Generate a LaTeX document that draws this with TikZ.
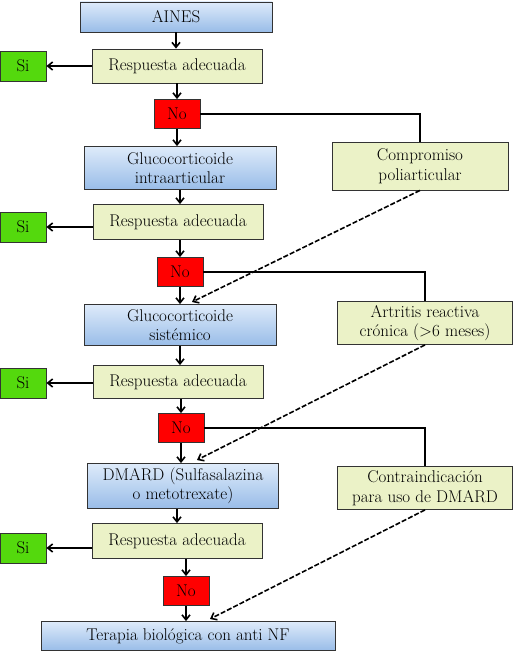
\documentclass[tikz,border=0pt]{standalone}
\usepackage{fontspec}
\usepackage{tikz}
\usetikzlibrary{calc,arrows.meta}
\definecolor{azul}{rgb}{0.60, 0.74, 0.91}
\definecolor{azulclaro}{rgb}{0.87, 0.92, 0.98}
\definecolor{crema}{rgb}{0.92, 0.95, 0.78}
\definecolor{verde}{rgb}{0.33, 0.85, 0.05}
\definecolor{rojo}{rgb}{1.0, 0.0, 0.0}
\tikzset{
  caja/.style={draw=black!80, line width=0.8pt, minimum height=30pt, align=center,
    font=\fontsize{17}{19.5}\selectfont, inner sep=1pt},
  paso/.style={caja, top color=azulclaro, bottom color=azul},
  resp/.style={caja, fill=crema},
  si/.style={caja, fill=verde, minimum width=46pt},
  no/.style={caja, fill=rojo, minimum width=46pt, minimum height=29pt},
  flecha/.style={-{Straight Barb[length=5pt,width=8pt]}, line width=1.6pt},
  rama/.style={line width=1.6pt},
  salto/.style={flecha, dashed, dash pattern=on 5pt off 2pt},
}
\begin{document}
\begin{tikzpicture}[x=1pt,y=-1pt]
        \useasboundingbox (0,0) rectangle (518,658);
        % columna principal
        \node[paso, minimum width=192pt] (aines) at (176,17) {AINES};
        \node[resp, minimum width=170pt, minimum height=34pt] (resp1) at (177,66) {Respuesta adecuada};
        \node[si] (si1) at (23,66) {Si};
        \node[no] (no1) at (177,114) {No};
        \node[paso, minimum width=192pt, minimum height=43pt] (gluint) at (180,168) {Glucocorticoide\\intraarticular};
        \node[resp, minimum width=170pt, minimum height=35pt] (resp2) at (178,222) {Respuesta adecuada};
        \node[si] (si2) at (23,227) {Si};
        \node[no] (no2) at (180,272) {No};
        \node[paso, minimum width=192pt, minimum height=41pt] (glusis) at (180,325) {Glucocorticoide\\sist\'emico};
        \node[resp, minimum width=170pt, minimum height=33pt] (resp3) at (178,382) {Respuesta adecuada};
        \node[si] (si3) at (23,383) {Si};
        \node[no] (no3) at (181,428) {No};
        \node[paso, minimum width=191pt, minimum height=45pt] (dmard) at (183,486) {DMARD (Sulfasalazina\\o metotrexate)};
        \node[resp, minimum width=170pt, minimum height=35pt] (resp4) at (177,541) {Respuesta adecuada};
        \node[si] (si4) at (23,548) {Si};
        \node[no] (no4) at (186,591) {No};
        \node[paso, minimum width=294pt, minimum height=29pt] (terapia) at (188,636) {Terapia biol\'ogica con anti NF};
        % columna derecha
        \node[resp, minimum width=176pt, minimum height=48pt] (comp) at (420,166) {Compromiso\\poliarticular};
        \node[resp, minimum width=175pt, minimum height=43pt] (artr) at (425,323) {Artritis reactiva\\cr\'onica (>6 meses)};
        \node[resp, minimum width=175pt, minimum height=43pt] (contra) at (425,488) {Contraindicaci\'on\\para uso de DMARD};
        \coordinate (fin1) at (192,302);
        \coordinate (fin2) at (197,460);
        \coordinate (fin3) at (210,619);
        % flechas
        \draw[flecha] (aines) -- (aines |- resp1.north);
        \draw[flecha] (resp1.south) -- (no1.north);
        \draw[flecha] (no1.south) -- (no1.south |- gluint.north);
        \draw[flecha] (gluint.south) -- (gluint.south |- resp2.north);
        \draw[flecha] (resp2.south -| no2) -- (no2.north);
        \draw[flecha] (no2.south) -- (no2.south |- glusis.north);
        \draw[flecha] (glusis.south) -- (glusis.south |- resp3.north);
        \draw[flecha] (resp3.south -| no3) -- (no3.north);
        \draw[flecha] (no3.south) -- (no3.south |- dmard.north);
        \draw[flecha] (dmard.south -| resp4.north) -- (resp4.north);
        \draw[flecha] (resp4.south -| no4) -- (no4.north);
        \draw[flecha] (no4.south) -- (no4.south |- terapia.north);
        \draw[flecha] (resp1.west) -- (si1.east);
        \draw[flecha] (resp2.west |- si2) -- (si2.east);
        \draw[flecha] (resp3.west |- si3) -- (si3.east);
        \draw[flecha] (resp4.west |- si4) -- (si4.east);
        \draw[rama] (no1.east) -| (comp.north);
        \draw[rama] (no2.east) -| (artr.north);
        \draw[rama] (no3.east) -| (contra.north);
        \draw[salto] (comp.south) -- (fin1);
        \draw[salto] (artr.south) -- (fin2);
        \draw[salto] (contra.south) -- (fin3);
    \end{tikzpicture}
\end{document}
